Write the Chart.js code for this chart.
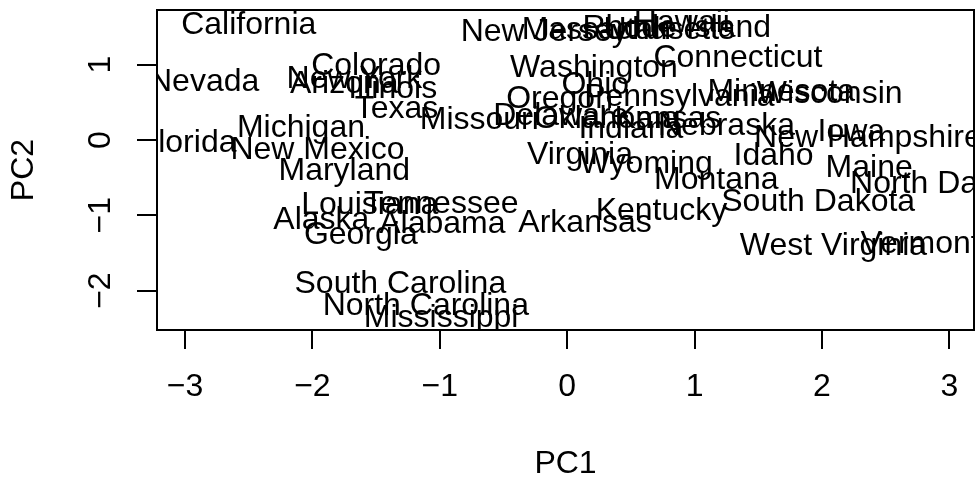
<!DOCTYPE html>
<html>
<head>
<meta charset="utf-8">
<script src="https://cdn.jsdelivr.net/npm/chart.js@4"></script>
<style>
  body { margin: 0; background: #fff; }
</style>
</head>
<body>
<canvas id="myChart" width="979" height="481"></canvas>
<script>
const ctx = document.getElementById('myChart');

const states = [
    'Alabama', 'Alaska', 'Arizona', 'Arkansas', 'California', 'Colorado', 'Connecticut',
    'Delaware', 'Florida', 'Georgia', 'Hawaii', 'Idaho', 'Illinois', 'Indiana', 'Iowa',
    'Kansas', 'Kentucky', 'Louisiana', 'Maine', 'Maryland', 'Massachusetts', 'Michigan',
    'Minnesota', 'Mississippi', 'Missouri', 'Montana', 'Nebraska', 'Nevada', 'New Hampshire',
    'New Jersey', 'New Mexico', 'New York', 'North Carolina', 'North Dakota', 'Ohio',
    'Oklahoma', 'Oregon', 'Pennsylvania', 'Rhode Island', 'South Carolina', 'South Dakota',
    'Tennessee', 'Texas', 'Utah', 'Vermont', 'Virginia', 'Washington', 'West Virginia',
    'Wisconsin', 'Wyoming'
];

const pc1 = [
    -0.98, -1.93, -1.75, 0.14, -2.50, -1.50, 1.34,
    -0.05, -2.98, -1.62, 0.90, 1.62, -1.37, 0.50, 2.23,
    0.79, 0.74, -1.55, 2.37, -1.75, 0.48, -2.09,
    1.68, -0.99, -0.69, 1.17, 1.25, -2.85, 2.36,
    -0.18, -1.96, -1.67, -1.11, 2.96, 0.22,
    0.31, -0.06, 0.88, 0.86, -1.31, 1.97,
    -0.99, -1.34, 0.55, 2.77, 0.10, 0.21, 2.09,
    2.06, 0.62
];

const pc2 = [
    -1.12, -1.06, 0.74, -1.11, 1.53, 0.98, 1.08,
    0.32, -0.04, -1.27, 1.55, -0.21, 0.67, 0.15, 0.10,
    0.27, -0.95, -0.86, -0.37, -0.42, 1.46, 0.16,
    0.63, -2.37, 0.26, -0.53, 0.19, 0.77, 0.02,
    1.43, -0.14, 0.81, -2.21, -0.59, 0.73,
    0.28, 0.54, 0.57, 1.48, -1.91, -0.82,
    -0.85, 0.41, 1.46, -1.39, -0.20, 0.96, -1.41,
    0.61, -0.32
];

const xTicks = [-3, -2, -1, 0, 1, 2, 3];
const yTicks = [-2, -1, 0, 1];

const FONT = "'Liberation Sans', Arial, Helvetica, sans-serif";
const SIZE = 32;

const minus = v => String(v).replace('-', '\u2212');

// state names drawn at each (invisible) point, clipped to the plot box like R's text()
const stateLabels = {
    id: 'stateLabels',
    afterDatasetsDraw(chart) {
        const { ctx, chartArea } = chart;
        const meta = chart.getDatasetMeta(0);
        ctx.save();
        ctx.beginPath();
        ctx.rect(chartArea.left, chartArea.top, chartArea.right - chartArea.left, chartArea.bottom - chartArea.top);
        ctx.clip();
        ctx.fillStyle = '#000';
        ctx.font = SIZE + 'px ' + FONT;
        ctx.textAlign = 'center';
        ctx.textBaseline = 'middle';
        meta.data.forEach((pt, i) => {
            ctx.fillText(states[i], pt.x, pt.y);
        });
        ctx.restore();
    },
    afterDraw(chart) {
        const { ctx, chartArea } = chart;
        ctx.save();
        ctx.strokeStyle = '#000';
        ctx.lineWidth = 2;
        ctx.strokeRect(chartArea.left, chartArea.top, chartArea.right - chartArea.left, chartArea.bottom - chartArea.top);
        ctx.restore();
    }
};

new Chart(ctx, {
    type: 'scatter',
    data: {
        datasets: [{
            data: pc1.map((x, i) => ({ x: x, y: pc2[i] })),
            pointRadius: 0,
            pointHoverRadius: 0
        }]
    },
    options: {
        responsive: false,
        animation: false,
        layout: { padding: { top: 10, right: 5, left: 0, bottom: 0 } },
        plugins: {
            legend: { display: false },
            tooltip: { enabled: false }
        },
        scales: {
            x: {
                type: 'linear',
                min: -3.22,
                max: 3.193,
                afterBuildTicks: s => { s.ticks = xTicks.map(v => ({ value: v })); },
                afterFit: s => {
                    s.height = 151;
                    s.paddingLeft = 0;
                    s.paddingRight = 0;
                },
                border: { display: false },
                grid: { drawOnChartArea: false, drawTicks: true, tickLength: 19, color: '#000', lineWidth: 2 },
                ticks: {
                    color: '#000',
                    padding: 19,
                    maxRotation: 0,
                    autoSkip: false,
                    font: { family: FONT, size: SIZE },
                    callback: v => minus(v)
                },
                title: {
                    display: true,
                    text: 'PC1',
                    color: '#000',
                    padding: { top: 0, bottom: -2 },
                    font: { family: FONT, size: SIZE }
                }
            },
            y: {
                type: 'linear',
                min: -2.523,
                max: 1.726,
                afterBuildTicks: s => { s.ticks = yTicks.map(v => ({ value: v })); },
                afterFit: s => {
                    s.width = 157;
                    s.paddingTop = 0;
                    s.paddingBottom = 0;
                },
                border: { display: false },
                grid: { drawOnChartArea: false, drawTicks: true, tickLength: 20, color: '#000', lineWidth: 2 },
                ticks: {
                    color: '#000',
                    padding: 18,
                    minRotation: 90,
                    maxRotation: 90,
                    crossAlign: 'center',
                    autoSkip: false,
                    font: { family: FONT, size: SIZE },
                    callback: v => minus(v)
                },
                title: {
                    display: true,
                    text: 'PC2',
                    color: '#000',
                    padding: { top: 5, bottom: 0 },
                    font: { family: FONT, size: SIZE }
                }
            }
        }
    },
    plugins: [stateLabels]
});
</script>
</body>
</html>
